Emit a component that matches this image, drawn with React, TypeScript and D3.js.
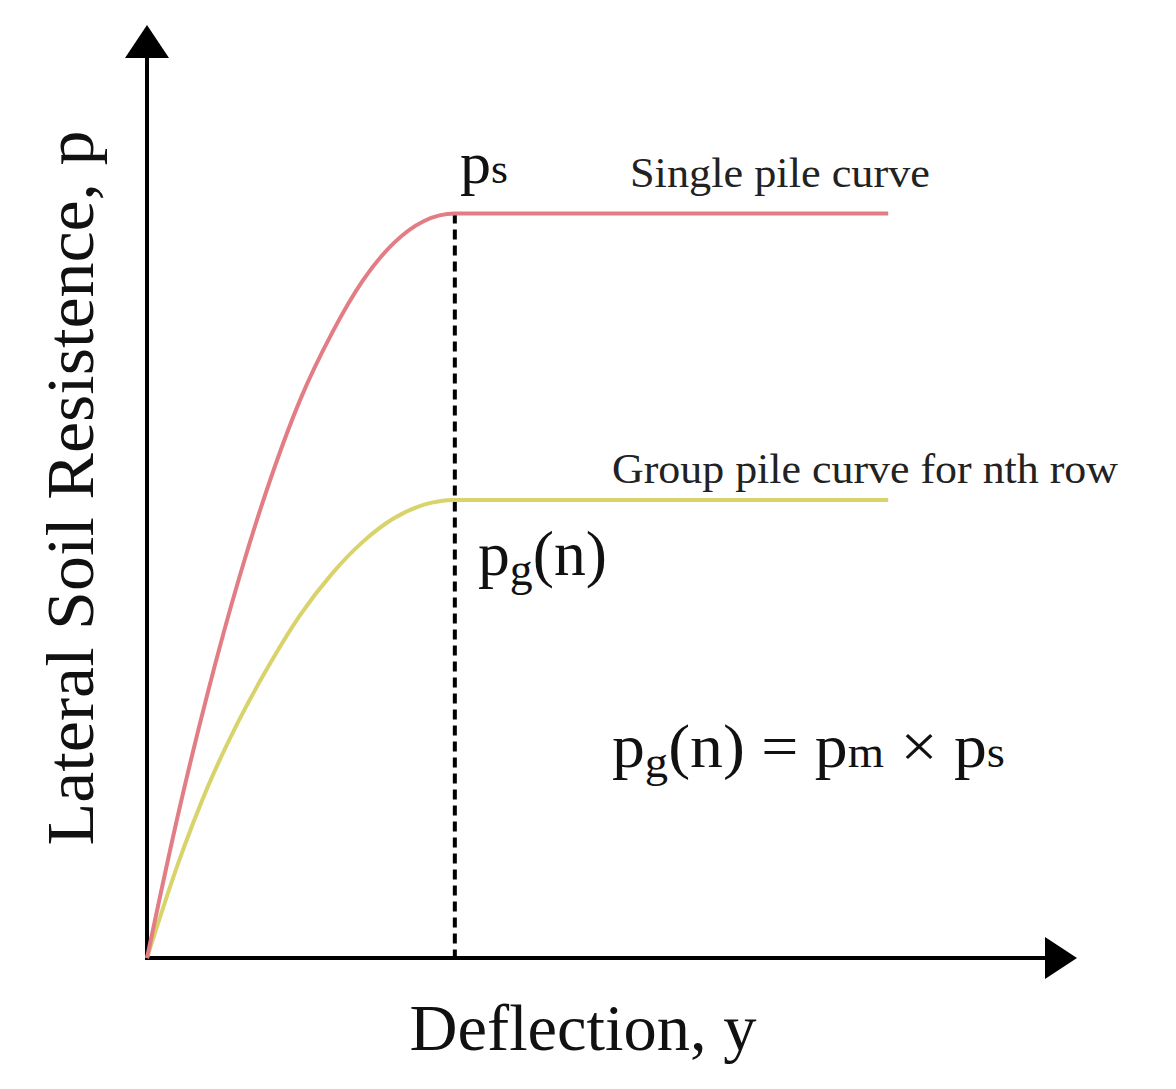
import * as d3 from "d3";

// values (deflection / resistance in % of axis length)
const deflection = [0, 3.3, 6.6, 9.9, 13.2, 16.5, 19.9, 23.2, 26.5, 29.8, 33.1, 79.7];
const singlePile = [0, 15.2, 28.7, 40.7, 51.1, 59.9, 67.0, 72.6, 76.6, 79.0, 79.8, 79.8];
const groupPile = [0, 10.0, 18.5, 25.5, 31.5, 36.8, 41.2, 44.6, 47.1, 48.6, 49.1, 49.1];
const yieldDeflection = 33.1;
const ps = 79.8;

const W = 1176;
const H = 1089;
const font = "'Liberation Serif', 'Times New Roman', serif";

export default function App() {
  const x = d3.scaleLinear().domain([0, 100]).range([147, 1077]);
  const y = d3.scaleLinear().domain([0, 100]).range([958, 25]);

  const line = d3
    .line<number>()
    .x((_, i) => x(deflection[i]))
    .y((d) => y(d))
    .curve(d3.curveMonotoneX);

  const x0 = x(0);
  const y0 = y(0);
  const xTip = x(100);
  const yTip = y(100);

  return (
    <svg
      width={W}
      height={H}
      style={{ position: "absolute", left: 0, top: 0, background: "#fff" }}
      fontFamily={font}
    >
      {/* axes */}
      <line x1={x0} y1={y0} x2={x0} y2={yTip + 30} stroke="#000" strokeWidth={4} />
      <path d={`M${x0},${yTip} L${x0 - 22},${yTip + 33} L${x0 + 22},${yTip + 33} Z`} fill="#000" />
      <line x1={x0 - 2} y1={y0} x2={xTip - 30} y2={y0} stroke="#000" strokeWidth={4} />
      <path d={`M${xTip},${y0} L${xTip - 32},${y0 - 21} L${xTip - 32},${y0 + 21} Z`} fill="#000" />

      {/* yield line */}
      <line
        x1={x(yieldDeflection)}
        x2={x(yieldDeflection)}
        y1={y(ps)}
        y2={y0}
        stroke="#000"
        strokeWidth={4}
        strokeDasharray="10 6"
      />

      {/* curves */}
      <path d={line(groupPile) || ""} fill="none" stroke="#d8d36a" strokeWidth={4} />
      <path d={line(singlePile) || ""} fill="none" stroke="#e27d85" strokeWidth={4} />

      {/* labels */}
      <text x={460} y={183} fontSize={60} fill="#111" textLength={48} lengthAdjust="spacingAndGlyphs">
        p<tspan fontSize={42}>s</tspan>
      </text>
      <text x={630} y={187} fontSize={42} fill="#222" textLength={300} lengthAdjust="spacingAndGlyphs">
        Single pile curve
      </text>
      <text x={612} y={483} fontSize={42} fill="#222" textLength={506} lengthAdjust="spacingAndGlyphs">
        Group pile curve for nth row
      </text>
      <text x={478} y={575} fontSize={64} fill="#111" textLength={129} lengthAdjust="spacingAndGlyphs">
        p<tspan fontSize={46} dy={10}>g</tspan>
        <tspan fontSize={64} dy={-10}>(n)</tspan>
      </text>
      <text x={612} y={767} fontSize={62} fill="#111" textLength={393} lengthAdjust="spacingAndGlyphs">
        p<tspan fontSize={44} dy={10}>g</tspan>
        <tspan fontSize={62} dy={-10}>(n) = p</tspan>
        <tspan fontSize={44}>m</tspan>
        <tspan fontSize={62}> × p</tspan>
        <tspan fontSize={44}>s</tspan>
      </text>

      <text x={583} y={1050} fontSize={66} textAnchor="middle" fill="#111" textLength={347} lengthAdjust="spacingAndGlyphs">
        Deflection, y
      </text>
      <text
        transform={`translate(93,488) rotate(-90)`}
        fontSize={68}
        textAnchor="middle"
        fill="#111"
        textLength={715}
        lengthAdjust="spacingAndGlyphs"
      >
        Lateral Soil Resistence, p
      </text>
    </svg>
  );
}
